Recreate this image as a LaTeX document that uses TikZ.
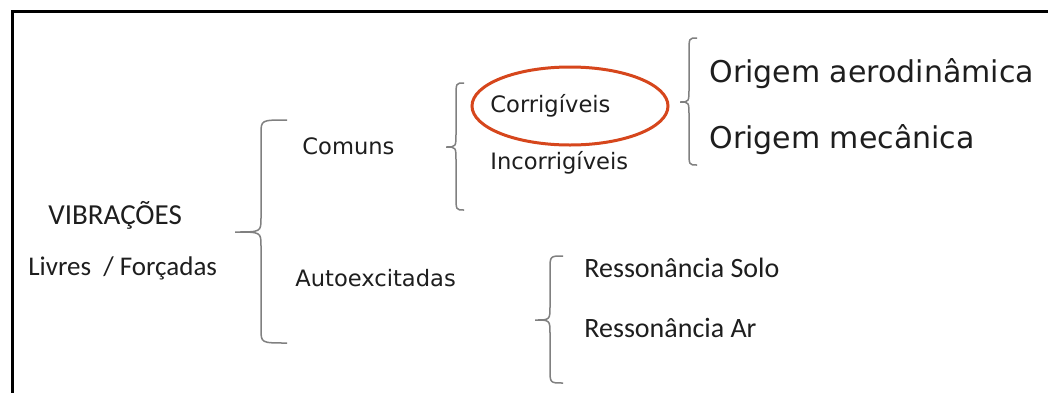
\documentclass[tikz,border=0pt]{standalone}
\usepackage{fontspec}
\setmainfont{DejaVu Sans}
\newfontfamily\calfont{Carlito}
\definecolor{bracegray}{RGB}{128,128,128}
\definecolor{ovalred}{RGB}{214,70,28}
\definecolor{txt}{RGB}{30,30,30}
\newcommand{\drawbrace}[6]{% tipx, tipy, spinex, endx, top, bottom
  \draw[bracestyle] (#4,#5) .. controls (#3,#5) .. (#3,#5+14)
    -- (#3,#2-14) .. controls (#3,#2) .. (#1,#2)
    .. controls (#3,#2) .. (#3,#2+14)
    -- (#3,#6-14) .. controls (#3,#6) .. (#4,#6);}
\begin{document}
\begin{tikzpicture}[x=0.5pt,y=-0.5pt,
  bracestyle/.style={draw=bracegray,line width=0.75pt},
  lbl/.style={anchor=base west,inner sep=0pt,text=txt},
  big/.style={lbl,font=\fontsize{15}{18}\selectfont},
  mid/.style={lbl,font=\fontsize{11.3}{14}\selectfont},
  cal/.style={lbl,font=\calfont\fontsize{14}{17}\selectfont}]
\useasboundingbox (0,0) rectangle (1048,392);
\fill[white] (0,0) rectangle (1048,392);
\draw[line width=1.5pt,black] (12,400) -- (12,11) -- (1060,11);
% texts
\node[cal,font=\calfont\fontsize{14.5}{17}\selectfont] (vib) at (48,224) {VIBRAÇÕES};
\node[cal,font=\calfont\fontsize{13.5}{16}\selectfont] (lf) at (28,275) {Livres\ \ / Forçadas};
\node[mid] (com) at (302,154) {Comuns};
\node[mid] (auto) at (295,286) {Autoexcitadas};
\node[mid] (cor) at (490,112) {Corrigíveis};
\node[mid] (inc) at (490,169) {Incorrigíveis};
\node[big] (aero) at (709,82) {Origem aerodinâmica};
\node[big] (mec) at (709,148) {Origem mecânica};
\node[cal] (rs) at (584,277) {Ressonância Solo};
\node[cal] (ra) at (584,337) {Ressonância Ar};
% oval around Corrigiveis
\draw[ovalred,line width=1.5pt] (570,106) ellipse [x radius=98,y radius=39];
% braces
\drawbrace{235}{232}{261}{287}{120}{343}
\drawbrace{446}{147}{456}{464}{83}{210}
\drawbrace{680}{102}{689}{697}{38}{165}
\drawbrace{535}{320}{550}{563}{256}{383}
\end{tikzpicture}
\end{document}
